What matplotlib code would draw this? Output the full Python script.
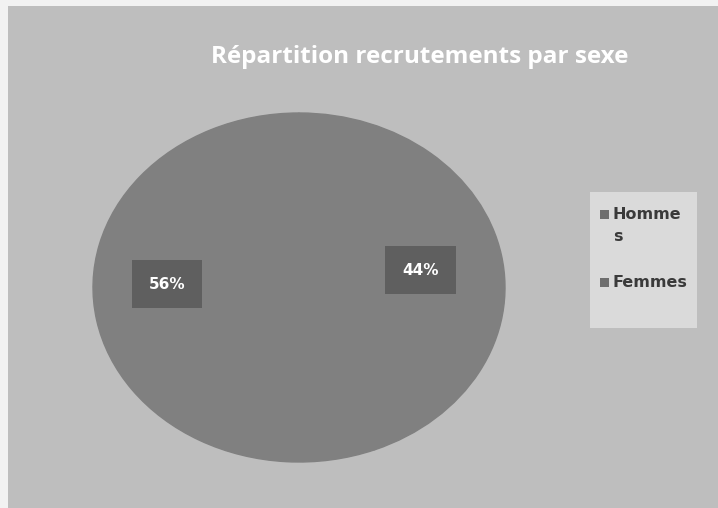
import matplotlib
matplotlib.use("Agg")
import matplotlib.pyplot as plt
from matplotlib.patches import Rectangle

title = "Répartition recrutements par sexe"
categories = ["Hommes", "Femmes"]
legend_labels = ["Homme\ns", "Femmes"]
values = [44, 56]
pct_labels = ["44%", "56%"]

bg = "#bebebe"
pie_col = "#808080"
box_col = "#5f5f5f"

W, H = 718, 508
fig = plt.figure(figsize=(7.18, 5.08), dpi=100, facecolor="#f2f2f2")
bgax = fig.add_axes([8/W, 0, 1 - 8/W, 1 - 6/H])
bgax.set_facecolor(bg)
bgax.set_xticks([]); bgax.set_yticks([])
for s in bgax.spines.values():
    s.set_visible(False)

x0, x1, y0, y1 = 93, 505, 113, 462
ax = fig.add_axes([x0/W, 1 - y1/H, (x1 - x0)/W, (y1 - y0)/H])
ax.set_facecolor("none")
wedges, _ = ax.pie(values, startangle=90, counterclock=False,
                   colors=[pie_col, pie_col],
                   wedgeprops=dict(linewidth=1.0, edgecolor=pie_col))
ax.set_aspect("auto")
ax.set_xlim(-1, 1); ax.set_ylim(-1, 1)
ax.axis("off")

ax.text(0.59, 0.10, pct_labels[0], ha="center", va="center", color="white",
        fontsize=11, fontweight="bold", family="DejaVu Sans",
        bbox=dict(boxstyle="square,pad=1.1", fc=box_col, ec="none"))
ax.text(-0.64, 0.02, pct_labels[1], ha="center", va="center", color="white",
        fontsize=11, fontweight="bold", family="DejaVu Sans",
        bbox=dict(boxstyle="square,pad=1.1", fc=box_col, ec="none"))

fig.text(420/W, 1 - 57/H, title, ha="center", va="center", color="white",
         fontsize=17.5, fontweight="bold", family="Open Sans")

fig.patches.append(Rectangle((590/W, 1 - 328/H), 107/W, 136/H,
                             transform=fig.transFigure, fc="#dadada", ec="none"))
rows_y = [215, 283]
for lab, yy in zip(legend_labels, rows_y):
    fig.patches.append(Rectangle((600/W, 1 - (yy + 4)/H), 9/W, 9/H,
                                 transform=fig.transFigure, fc="#6e6e6e", ec="none"))
    fig.text(613/W, 1 - (yy - 8)/H, lab, ha="left", va="top", color="#3a3a3a",
             fontsize=11.5, fontweight="bold", family="DejaVu Sans",
             linespacing=1.6)

fig.savefig("out.png", dpi=100, facecolor=fig.get_facecolor())
